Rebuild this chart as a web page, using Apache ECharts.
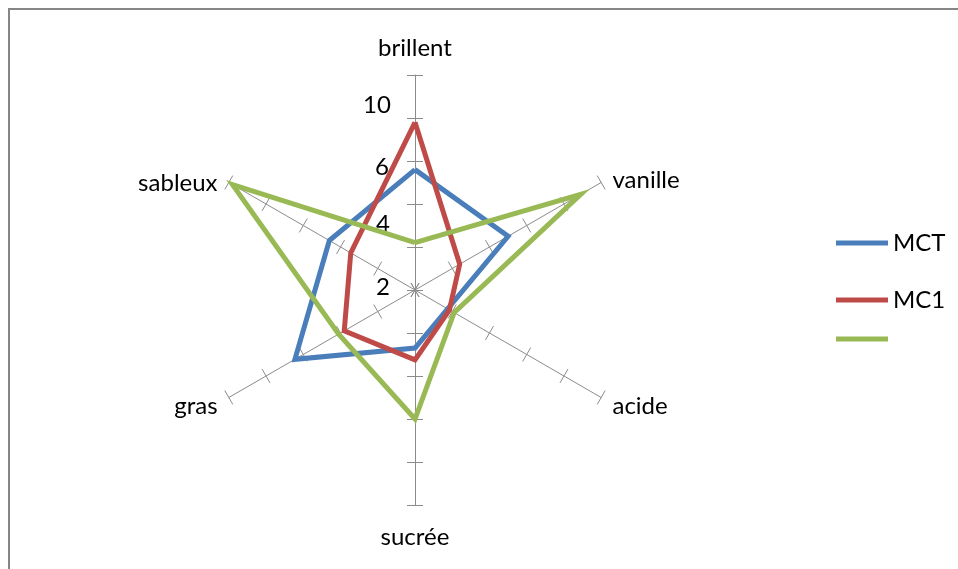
<!DOCTYPE html>
<html>
<head>
<meta charset="utf-8">
<script src="https://cdn.jsdelivr.net/npm/echarts@6/dist/echarts.min.js"></script>
<style>
  html, body { margin: 0; padding: 0; background: #fff; }
  #chart { width: 958px; height: 569px; }
</style>
</head>
<body>
<div id="chart"></div>
<script>
// axes of the radar, clockwise from the top
const axes = ["brillent", "vanille", "acide", "sucrée", "gras", "sableux"];
const axisMax = 10;

// series values, same order as axes
const mctValues = [5.6, 5.0, 1.75, 2.7, 6.45, 4.6];
const mc1Values = [7.8, 2.4, 1.85, 3.25, 3.8, 3.45];
const thirdValues = [2.2, 8.9, 2.1, 6.0, 4.1, 9.8];

const seriesNames = ["MCT", "MC1", " "];
const seriesColors = ["#4a7ebb", "#be4b48", "#98b954"];

// the scale labels as they show on the top axis
const scaleLabels = ["10", "6", "4", "2"];

const font = "Lato, 'Noto Sans', sans-serif";
const axisGrey = "#8c8c8c";

// echarts lays radar axes out counter-clockwise, so flip the order after the first
const ccw = (arr) => [arr[0]].concat(arr.slice(1).reverse());

const chart = echarts.init(document.getElementById("chart"));

const indicator = ccw(axes).map((name) => ({ name: name, min: 0, max: axisMax }));
const center = [415, 290];
const radius = 215;

// positions of the scale labels (text only, next to the top axis)
const labelSpots = [[377, 105], [382, 167], [383, 224], [383, 287]];

// small nudges so each axis name sits like in excel
const namePad = [[0, 0, 2, 0], [8, 0, 0, 0], [4, 0, 0, 0], [7, 0, 0, 0], [4, 0, 0, 0], [14, 0, 0, 0]];
const nameRich = {};
axes.forEach((a, i) => {
  nameRich["n" + i] = { color: "#000", fontSize: 24, fontFamily: font, padding: namePad[i] };
});

const radarBase = {
  center: center,
  radius: radius,
  startAngle: 90,
  splitNumber: 5,
  shape: "polygon",
  axisLabel: { show: false },
  splitLine: { show: false },
  splitArea: { show: false },
};

chart.setOption({
  animation: false,
  backgroundColor: "#fff",
  radar: [
    Object.assign({}, radarBase, {
      indicator: indicator,
      axisName: {
        color: "#000", fontSize: 24, fontFamily: font,
        formatter: (name) => "{n" + axes.indexOf(name) + "|" + name + "}",
        rich: nameRich,
      },
      axisNameGap: 13,
      axisLine: { lineStyle: { color: axisGrey, width: 1 } },
      axisTick: { show: true, length: 8, lineStyle: { color: axisGrey, width: 1 } },
    }),
    Object.assign({}, radarBase, {
      // second copy only for the other half of each tick mark
      indicator: indicator.map((d) => ({ name: "", min: d.min, max: d.max })),
      axisName: { show: false },
      axisLine: { show: false },
      axisTick: { show: true, length: -8, lineStyle: { color: axisGrey, width: 1 } },
    }),
  ],
  legend: [
    {
      data: [seriesNames[0]],
      left: 836, top: 231, padding: 0,
      icon: "rect", itemWidth: 52, itemHeight: 5,
      selectedMode: false,
      textStyle: { color: "#000", fontSize: 24, fontFamily: font },
    },
    {
      data: [seriesNames[1]],
      left: 836, top: 288, padding: 0,
      icon: "rect", itemWidth: 52, itemHeight: 5,
      selectedMode: false,
      textStyle: { color: "#000", fontSize: 24, fontFamily: font, padding: [0, 0, 25, 0] },
    },
    {
      data: [seriesNames[2]],
      left: 836, top: 327, padding: 0,
      icon: "rect", itemWidth: 52, itemHeight: 5,
      selectedMode: false,
      textStyle: { color: "#000", fontSize: 24, fontFamily: font },
    },
  ],
  series: [
    {
      type: "radar",
      radarIndex: 0,
      symbol: "none",
      data: [mctValues, mc1Values, thirdValues].map((vals, i) => ({
        name: seriesNames[i],
        value: ccw(vals),
        itemStyle: { color: seriesColors[i] },
        lineStyle: { color: seriesColors[i], width: 5, join: "miter", miterLimit: 20 },
      })),
    },
  ],
  graphic: [
    {
      type: "rect",
      shape: { x: 9, y: 9, width: 1000, height: 600 },
      style: { fill: "none", stroke: "#868686", lineWidth: 2 },
      silent: true,
    },
  ].concat(
    scaleLabels.map((t, i) => ({
      type: "text",
      x: labelSpots[i][0],
      y: labelSpots[i][1],
      style: {
        text: t,
        fill: "#000",
        fontSize: 24,
        fontFamily: font,
        align: "center",
        verticalAlign: "middle",
      },
      silent: true,
    }))
  ),
});
</script>
</body>
</html>
